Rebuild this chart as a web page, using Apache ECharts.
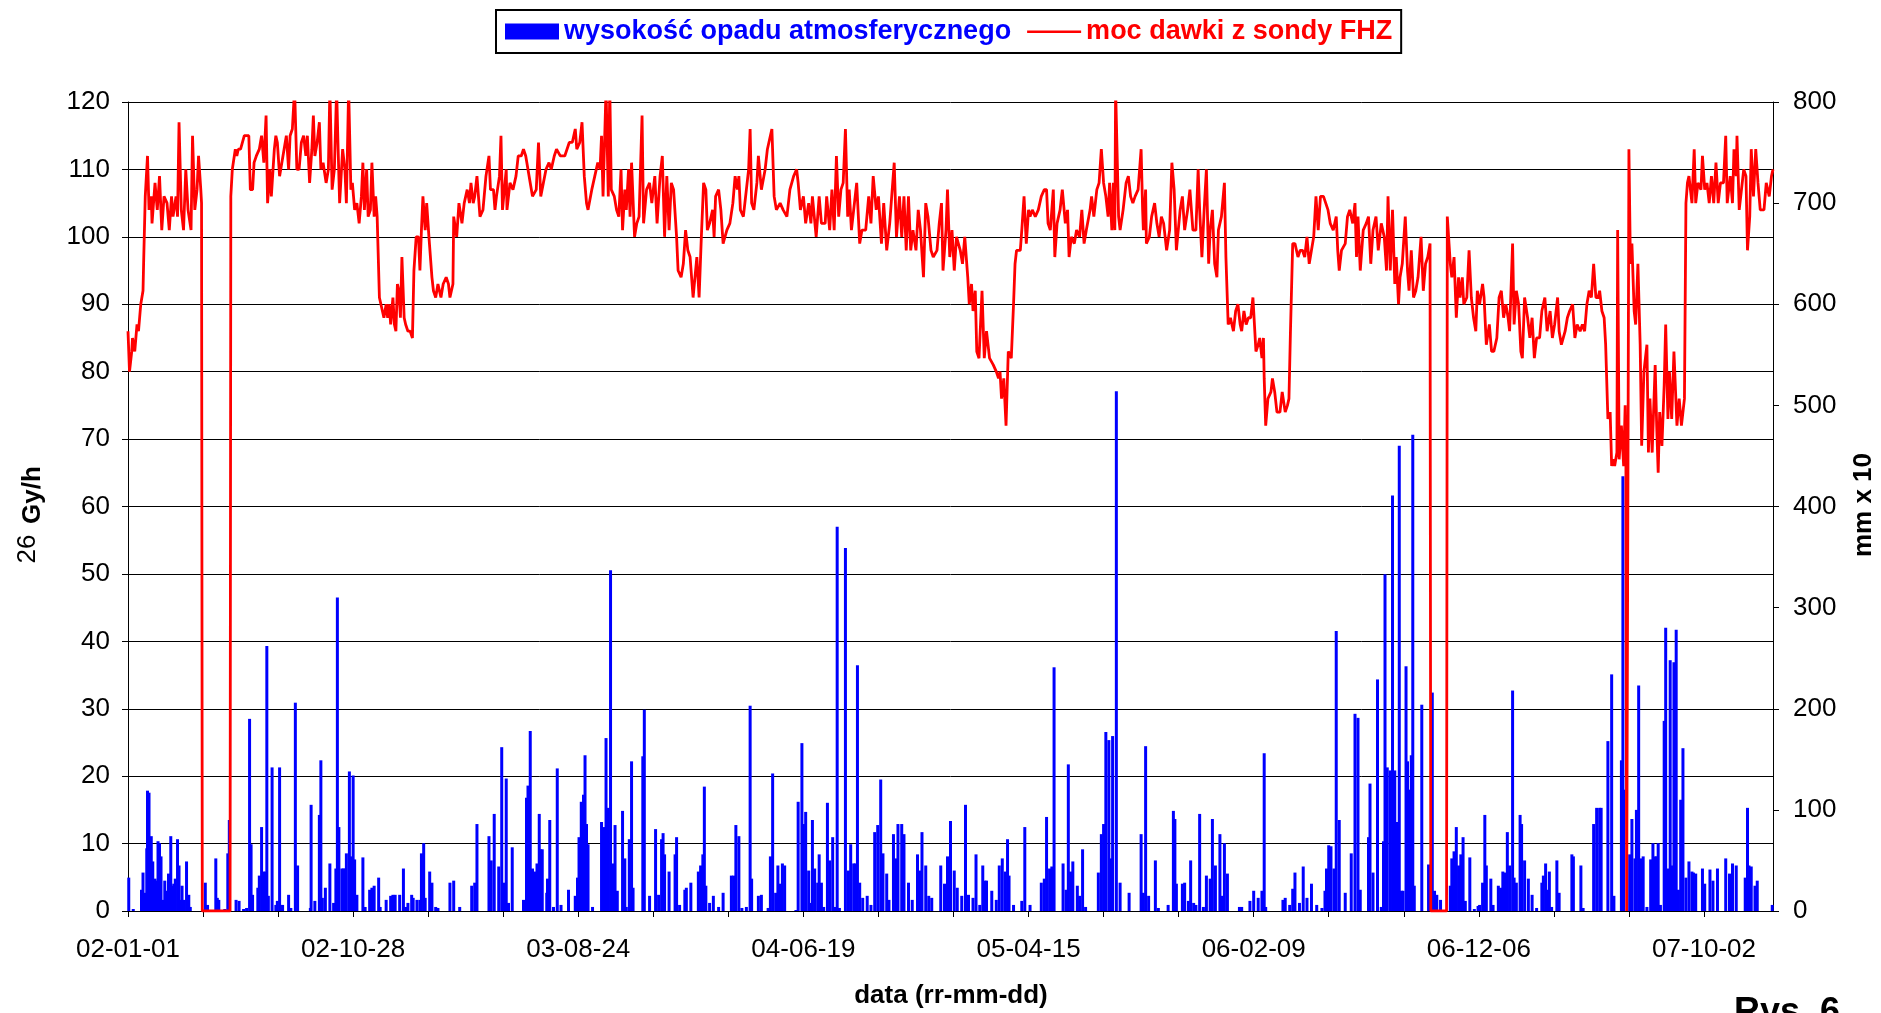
<!DOCTYPE html>
<html>
<head>
<meta charset="utf-8">
<script src="https://cdn.jsdelivr.net/npm/echarts@6/dist/echarts.min.js"></script>
<style>
  html, body { margin: 0; padding: 0; background: #fff; }
  #chart { width: 1881px; height: 1013px; }
</style>
</head>
<body>
<div id="chart"></div>
<script>
// dzień 0 = 2002-01-01
const startDate = Date.UTC(2002, 0, 1);

// moc dawki [dzień, nGy/h]
const doseRate = [
  [0,86],[2,80],[5,83],[6,85],[9,83],[12,87],[14,86],[17,90],[20,92],[21,97],[23,106],[26,112],[28,104],[31,106],[32,102],[36,108],[39,104],[42,109],[45,101],[48,106],[52,105],[55,101],[58,106],[60,103],[64,106],[66,103],[68,117],[71,104],[74,101],[77,110],[80,104],[84,101],[86,115],[89,104],[92,107],[94,112],[97,107],[98,105],[99,0],[136,0],
  [137,106],[139,110],[143,113],[145,112],[147,113],[150,113],[155,115],[158,115],[161,115],[163,107],[166,107],[168,111],[171,112],[175,113],[178,115],[181,111],[184,118],[186,105],[189,110],[191,106],[195,113],[197,115],[199,114],[202,109],[205,111],[208,113],[211,115],[214,110],[216,115],[219,116],[222,122],[225,110],[228,110],[231,114],[234,115],[237,112],[239,115],[242,108],[245,113],[247,118],[249,112],[252,114],[255,117],[257,110],[260,111],[264,108],[267,110],[269,122],[272,107],[275,110],[278,122],[280,113],[282,105],[286,113],[289,110],[291,105],[294,122],[297,107],[299,108],[302,104],[305,105],[308,102],[311,106],[313,111],[315,104],[318,110],[320,103],[323,104],[325,111],[328,103],[330,106],[332,103],
  [335,91],[337,90],[339,89],[341,88],[344,90],[346,88],[348,90],[350,87],[353,91],[355,87],[357,86],[359,93],[361,92],[363,88],[365,97],[368,88],[370,87],[373,86],[376,86],[379,85],[381,95],[384,100],[387,100],[389,95],[391,101],[393,106],[396,101],[398,105],[401,100],[405,94],[407,92],[410,91],[413,93],[417,91],[420,93],[424,94],[427,93],
  [429,91],[431,91],[433,93],[434,103],[438,100],[441,105],[445,102],[448,105],[452,107],[455,105],[457,108],[460,105],[462,106],[465,109],[469,103],[473,104],[477,109],[481,112],[483,107],[487,107],[489,104],[491,106],[495,109],[497,115],[499,104],[504,110],[505,104],[509,108],[513,107],[517,109],[520,112],[524,112],[527,113],[530,112],[532,112],[536,108],[539,106],[544,107],[547,114],[550,106],[552,106],[557,110],[561,111],[564,110],[568,112],[571,113],[576,112],[582,112],[588,114],[592,114],[596,116],[598,113],[602,114],[605,117],[608,109],[611,105],[613,104],[618,107],[622,109],[626,111],[629,110],[631,115],[633,106],[637,122],[640,106],[642,122],[644,107],[648,106],[651,104],[654,103],[657,110],[659,101],[662,107],[664,104],[667,110],[669,103],[671,111],[675,100],[678,102],[681,103],[683,103],[685,118],[687,102],[691,107],[695,108],[698,105],[702,109],[705,102],[709,109],[712,112],[715,100],[718,109],[721,101],[724,108],[727,107],[731,100],[733,95],[737,94],[740,96],[743,101],[746,98],[749,97],[753,91],[758,97],[761,91],[764,100],[767,108],[770,107],[772,101],[775,102],[779,104],[781,100],[783,106],[787,107],[790,104],[793,99],[798,101],[802,102],[806,105],[809,109],[812,107],[814,109],[816,104],[820,103],[824,107],[827,110],[829,116],[831,105],[834,104],[838,108],[840,112],[844,107],[849,110],[852,113],[854,114],[858,116],[861,106],[864,104],
  [869,105],[873,104],[878,103],[882,107],[887,109],[891,110],[893,108],[896,104],[900,106],[903,102],[907,105],[910,102],[912,106],[917,100],[921,106],[924,102],[929,102],[931,106],[935,101],[938,107],[941,101],[944,112],[947,103],[950,107],[953,108],[956,116],[959,103],[961,107],[964,101],[967,104],[971,108],[975,99],[978,101],[983,101],[987,106],[990,102],[993,109],[997,104],[1000,106],[1004,99],[1007,105],[1011,98],[1015,102],[1021,111],[1024,100],[1028,106],[1031,100],[1034,106],[1037,98],[1040,106],[1043,98],[1046,101],[1050,98],[1053,104],[1056,101],[1060,94],[1063,105],[1066,103],[1070,98],[1073,97],[1078,98],[1081,102],[1084,105],[1086,95],[1090,101],[1092,107],[1095,97],[1098,101],[1101,95],[1104,100],[1109,98],[1112,96],[1115,100],[1119,94],[1121,90],[1124,93],[1126,89],[1129,92],[1131,83],[1134,82],[1138,92],[1141,82],[1144,86],[1148,82],[1153,81],[1157,80],[1160,79],[1162,80],[1164,76],[1167,79],[1170,72],[1173,83],[1177,82],[1180,90],[1182,96],[1184,98],[1189,98],[1191,101],[1194,106],[1197,99],[1200,104],[1202,103],[1205,104],[1209,103],[1213,104],[1217,106],[1221,107],[1224,107],[1226,102],[1229,101],[1233,107],[1235,97],[1238,102],[1242,104],[1245,107],[1249,102],[1252,104],[1254,97],[1257,100],[1261,99],[1264,101],[1268,100],[1271,104],[1274,99],[1277,101],[1282,104],[1284,106],[1287,103],[1291,107],[1294,108],[1297,113],[1300,108],[1303,106],[1306,103],[1308,108],[1311,101],[1313,108],[1315,101],[1316,122],[1320,103],[1322,101],
  [1324,101],[1326,104],[1330,108],[1333,109],[1336,106],[1339,105],[1342,106],[1346,107],[1350,113],[1352,104],[1353,101],[1356,107],[1357,99],[1361,100],[1364,103],[1368,105],[1371,102],[1374,100],[1377,103],[1380,102],[1384,98],[1388,101],[1391,111],[1394,107],[1397,98],[1402,104],[1405,106],[1408,101],[1412,104],[1415,107],[1419,101],[1423,101],[1426,110],[1428,104],[1431,97],[1434,104],[1437,110],[1440,96],[1442,101],[1445,104],[1448,96],[1451,94],[1453,101],[1457,103],[1461,108],[1463,97],[1466,87],[1469,88],[1473,86],[1476,89],[1479,90],[1482,87],[1484,86],[1487,89],[1490,87],[1493,88],[1496,88],[1499,91],[1503,83],[1506,84],[1508,85],[1511,82],[1513,85],[1514,79],[1516,72],[1519,76],[1523,77],[1525,79],[1528,77],[1531,74],[1535,74],[1538,77],[1542,74],[1545,75],[1547,76],[1549,86],[1552,99],[1555,99],[1559,97],[1562,98],[1565,98],[1568,97],[1571,100],[1574,96],[1577,98],[1580,100],[1583,106],[1586,101],[1589,106],[1593,106],[1596,105],[1599,104],[1602,102],[1606,101],[1610,103],[1612,98],[1614,95],[1617,98],[1622,99],[1625,103],[1628,104],[1632,102],[1635,105],[1637,97],[1639,103],[1642,95],[1646,101],[1650,102],[1653,103],[1656,96],[1659,101],[1663,103],[1666,98],[1670,102],[1674,100],[1677,95],[1679,106],[1682,95],[1685,104],[1688,93],[1690,97],[1693,90],[1695,94],[1698,96],[1702,103],[1705,95],[1707,92],[1710,98],[1713,91],[1716,92],[1719,94],[1723,100],[1726,92],[1729,96],[1732,97],[1735,99],[1736,0],[1757,0],
  [1758,103],[1762,96],[1764,94],[1767,97],[1770,88],[1773,94],[1775,91],[1778,94],[1780,90],[1784,91],[1787,98],[1790,91],[1793,88],[1796,86],[1798,92],[1801,90],[1805,93],[1807,91],[1810,84],[1814,87],[1817,83],[1820,83],[1824,85],[1827,91],[1830,92],[1833,88],[1836,90],[1839,88],[1841,86],[1845,99],[1847,87],[1850,92],[1853,90],[1856,83],[1858,82],[1861,91],[1865,88],[1868,85],[1871,88],[1874,82],[1877,85],[1881,85],[1884,89],[1888,91],[1891,86],[1895,89],[1898,85],[1901,87],[1905,91],[1907,86],[1910,84],[1915,86],[1918,88],[1921,89],[1925,90],[1928,85],[1931,87],[1935,86],[1938,87],[1941,86],[1944,90],[1947,92],[1950,91],[1953,96],[1956,91],[1959,91],[1961,92],[1964,89],[1967,88],[1969,84],[1972,73],[1975,74],[1977,66],[1979,67],[1981,66],[1984,68],[1985,101],[1987,67],[1990,72],[1993,66],[1995,75],[1996,67],[1997,0],[1999,0],
  [2000,113],[2002,96],[2004,99],[2007,89],[2009,87],[2012,96],[2015,84],[2017,69],[2020,80],[2024,84],[2026,68],[2028,76],[2031,68],[2035,81],[2037,72],[2039,65],[2041,74],[2044,69],[2047,78],[2049,87],[2052,73],[2054,80],[2057,73],[2060,83],[2064,72],[2067,76],[2070,72],[2074,76],[2076,105],[2078,108],[2080,109],[2084,105],[2087,113],[2089,105],[2092,108],[2096,107],[2098,112],[2101,107],[2104,108],[2107,105],[2110,109],[2113,105],[2116,111],[2119,105],[2122,108],[2126,108],[2129,115],[2131,105],[2135,109],[2138,105],[2140,113],[2143,109],[2144,115],[2147,104],[2150,107],[2153,110],[2156,109],[2158,98],[2161,103],[2163,113],[2166,106],[2169,113],[2172,108],[2175,104],[2180,104],[2183,108],[2187,106],[2190,109],[2192,110]
];

// opad [dzień, mm x 10]
const rainfall = [
  [1,33],[7,2],[18,21],[20,38],[23,18],[25,62],[26,119],[28,117],[31,74],[33,49],[36,32],[38,30],[40,69],[42,67],[44,54],[46,11],[49,30],[52,20],[54,37],[57,74],[59,25],[61,27],[63,32],[66,71],[68,45],[70,11],[72,25],[75,11],[78,49],[81,16],[83,4],[103,28],[106,6],[117,52],[119,13],[121,11],[129,2],[133,57],[135,90],[144,11],[148,10],[154,2],[158,3],[162,190],[164,66],[166,16],[173,23],[175,35],[178,83],[180,39],[183,39],[185,262],[187,15],[192,142],[197,6],[199,10],[202,142],[204,6],[206,6],[214,16],[217,3],[223,206],[226,45],[243,3],[244,105],[249,10],[255,95],[257,149],[259,13],[263,23],[269,47],[274,8],[277,42],[279,310],[281,83],[285,42],[287,42],[289,42],[291,57],[295,138],[297,54],[300,134],[302,51],[305,16],[313,53],[316,4],[322,21],[325,23],[328,25],[334,33],[336,4],[344,11],[350,15],[353,16],[356,16],[362,16],[367,42],[370,4],[373,8],[378,16],[380,13],[385,11],[389,11],[391,57],[394,67],[396,13],[402,39],[405,28],[410,4],[413,3],
  [429,28],[434,30],[442,4],[458,25],[462,28],[465,86],[481,74],[484,50],[488,96],[494,44],[498,162],[501,28],[504,131],[507,8],[512,63],[527,11],[531,112],[533,124],[536,178],[539,42],[542,39],[545,47],[548,96],[550,61],[552,61],[558,18],[559,32],[562,90],[567,4],[572,141],[577,6],[587,21],[596,15],[599,33],[601,73],[604,108],[607,115],[609,154],[611,86],[613,66],[619,4],[631,88],[634,83],[637,171],[640,102],[643,337],[646,47],[649,85],[652,20],[659,99],[662,52],[664,4],[668,71],[671,148],[673,23],[686,153],[688,199],[695,15],[703,81],[707,16],[711,71],[713,77],[715,56],[721,39],[729,56],[731,73],[735,6],[742,21],[744,23],[750,28],[760,39],[763,45],[766,56],[768,123],[770,25],[775,8],[780,15],[787,4],[793,18],[804,35],[807,35],[810,85],[814,74],[818,3],[824,4],[829,203],[831,32],[840,15],[844,16],[853,3],[856,54],[859,136],[863,18],[866,45],[869,27],[872,47],[875,45],
  [890,1],[893,108],[898,166],[900,86],[903,98],[907,40],[910,8],[912,90],[915,42],[919,28],[921,56],[924,28],[927,4],[932,107],[935,50],[939,73],[942,4],[945,380],[948,3],[956,359],[960,40],[963,66],[967,47],[969,47],[972,243],[975,28],[979,13],[985,15],[990,6],[995,78],[999,85],[1003,130],[1006,57],[1011,37],[1014,11],[1020,76],[1023,52],[1026,86],[1031,86],[1034,76],[1040,28],[1045,11],[1052,56],[1055,40],[1058,78],[1063,45],[1067,15],[1071,13],[1083,45],[1088,27],[1092,54],[1096,89],[1101,40],[1105,23],[1111,15],[1116,105],[1120,16],[1126,13],[1130,56],[1135,6],[1139,45],[1142,30],[1144,30],[1151,20],[1157,11],[1161,45],[1165,52],[1169,39],[1172,71],[1174,35],[1180,6],[1191,10],[1195,83],[1202,6],[1217,28],[1221,32],[1224,93],[1228,42],[1231,44],[1234,241],[1246,47],[1250,21],[1253,145],[1256,39],[1259,49],[1265,25],[1268,15],[1272,61],[1276,4],[1293,38],[1297,76],[1300,86],[1303,177],[1307,169],[1310,52],[1312,173],[1317,514],
  [1322,28],[1334,18],[1350,76],[1353,18],[1356,163],[1360,15],[1369,50],[1373,3],[1386,6],[1393,99],[1395,91],[1397,27],[1405,27],[1408,28],[1413,10],[1416,50],[1420,8],[1423,6],[1428,96],[1433,4],[1437,35],[1442,32],[1445,91],[1449,45],[1455,76],[1458,15],[1461,67],[1465,37],[1481,4],[1484,4],[1495,10],[1500,20],[1506,13],[1511,20],[1514,156],[1516,4],[1539,11],[1542,13],[1548,6],[1552,22],[1555,38],[1561,8],[1566,44],[1571,13],[1577,27],[1584,6],[1591,3],[1595,20],[1597,42],[1600,65],[1603,64],[1607,42],[1610,277],[1614,90],[1622,18],[1630,57],[1635,195],[1639,191],[1642,21],[1653,73],[1655,126],[1659,38],[1665,229],[1670,4],[1673,69],[1675,333],[1678,142],[1682,139],[1685,411],[1688,139],[1691,88],[1694,460],[1697,20],[1699,20],[1703,242],[1705,148],[1707,120],[1710,154],[1712,471],[1714,25],[1724,204],[1733,46],[1738,216],[1741,20],[1744,16],[1749,11],
  [1762,25],[1764,52],[1767,59],[1770,83],[1773,45],[1776,56],[1779,73],[1782,10],[1788,53],[1794,2],[1799,5],[1801,6],[1805,28],[1808,95],[1810,45],[1816,32],[1819,6],[1826,25],[1829,23],[1832,39],[1835,38],[1838,78],[1841,45],[1845,218],[1847,33],[1850,28],[1855,95],[1857,86],[1861,50],[1866,32],[1871,16],[1877,3],[1884,28],[1886,35],[1889,47],[1891,21],[1894,39],[1897,4],[1904,50],[1907,18],[1924,56],[1926,54],[1936,45],[1939,3],[1953,86],[1957,102],[1961,102],[1963,102],[1972,168],[1977,234],[1980,15],[1990,149],[1992,430],[1993,120],[2001,56],[2004,91],[2008,52],[2010,100],[2013,223],[2016,52],[2019,54],[2024,4],[2029,51],[2032,67],[2035,54],[2037,54],[2039,67],[2042,6],[2047,188],[2049,280],[2052,42],[2055,248],[2058,45],[2060,246],[2063,278],[2066,21],[2069,110],[2072,161],[2076,33],[2080,49],[2084,39],[2086,38],[2089,37],[2098,42],[2101,27],[2108,41],[2112,30],[2118,42],[2129,52],[2134,37],[2138,47],[2143,45],[2155,33],[2158,102],[2160,45],[2163,44],[2168,25],[2171,30],[2191,6]
];

const seriesNames = ['wysokość opadu atmosferycznego', 'moc dawki z sondy FHZ'];
const font = 'Liberation Sans, Arial, sans-serif';

function pad(n) { return n < 10 ? '0' + n : '' + n; }
function fmtDay(v) {
  const d = new Date(startDate + v * 86400000);
  return String(d.getUTCFullYear()).slice(2) + '-' + pad(d.getUTCMonth() + 1) + '-' + pad(d.getUTCDate());
}

const chart = echarts.init(document.getElementById('chart'));

const option = {
  animation: false,
  backgroundColor: '#fff',
  grid: { left: 128, right: 108, top: 102, bottom: 102, containLabel: false },
  legend: {
    top: 10,
    left: 496,
    itemWidth: 54,
    itemHeight: 16,
    itemGap: 16,
    padding: [8, 9, 8, 9],
    borderColor: '#000',
    borderWidth: 2,
    data: [
      { name: seriesNames[0], icon: 'rect', textStyle: { color: '#0000ff' } },
      // cienka linia jako ikona (M na rogach ustala rozmiar ramki)
      { name: seriesNames[1], icon: 'path://M0,0 M0,7 L54,7 L54,9.5 L0,9.5 Z M54,16', textStyle: { color: '#ff0000' } }
    ],
    textStyle: { fontSize: 27, fontWeight: 'bold', fontFamily: font }
  },
  xAxis: {
    type: 'value',
    min: 0,
    max: 2192,
    interval: 100,
    axisLine: { lineStyle: { color: '#000', width: 1 } },
    axisTick: { length: 6, lineStyle: { color: '#000' } },
    splitLine: { show: false },
    axisLabel: {
      margin: 26,
      color: '#000',
      fontSize: 26,
      fontFamily: font,
      showMaxLabel: false,
      formatter: function (v) { return v % 300 === 0 ? fmtDay(v) : ''; }
    }
  },
  yAxis: [
    {
      type: 'value',
      min: 0,
      max: 120,
      interval: 10,
      axisLine: { show: true, lineStyle: { color: '#000' } },
      axisTick: { show: true, length: 6, lineStyle: { color: '#000' } },
      splitLine: { show: true, lineStyle: { color: '#000', width: 1 } },
      axisLabel: { margin: 18, color: '#000', fontSize: 26, fontFamily: font }
    },
    {
      type: 'value',
      min: 0,
      max: 800,
      interval: 100,
      position: 'right',
      axisLine: { show: true, lineStyle: { color: '#000' } },
      axisTick: { show: true, length: 6, lineStyle: { color: '#000' } },
      splitLine: { show: false },
      axisLabel: { margin: 20, color: '#000', fontSize: 26, fontFamily: font }
    }
  ],
  series: [
    {
      name: seriesNames[0],
      type: 'bar',
      yAxisIndex: 1,
      barWidth: 3,
      itemStyle: { color: '#0000ff' },
      data: rainfall
    },
    {
      name: seriesNames[1],
      type: 'line',
      yAxisIndex: 0,
      symbol: 'none',
      clip: true,
      lineStyle: { color: '#ff0000', width: 2.8 },
      itemStyle: { color: '#ff0000' },
      data: doseRate
    }
  ],
  graphic: [
    {
      type: 'text', x: 33, y: 495, rotation: Math.PI / 2,
      style: { text: 'Gy/h', font: 'bold 26px ' + font, fill: '#000', textAlign: 'center', textVerticalAlign: 'middle' }
    },
    {
      type: 'text', x: 28, y: 549, rotation: Math.PI / 2,
      style: { text: '26', font: '26px ' + font, fill: '#000', textAlign: 'center', textVerticalAlign: 'middle' }
    },
    {
      type: 'text', x: 1864, y: 505, rotation: Math.PI / 2,
      style: { text: 'mm x 10', font: 'bold 26px ' + font, fill: '#000', textAlign: 'center', textVerticalAlign: 'middle' }
    },
    {
      type: 'text', x: 951, y: 996,
      style: { text: 'data (rr-mm-dd)', font: 'bold 26px ' + font, fill: '#000', textAlign: 'center', textVerticalAlign: 'middle' }
    },
    {
      type: 'text', x: 1734, y: 995,
      style: { text: 'Rys. 6', font: 'bold 36px ' + font, fill: '#000', textAlign: 'left', textVerticalAlign: 'top' }
    }
  ]
};

chart.setOption(option);
</script>
</body>
</html>
